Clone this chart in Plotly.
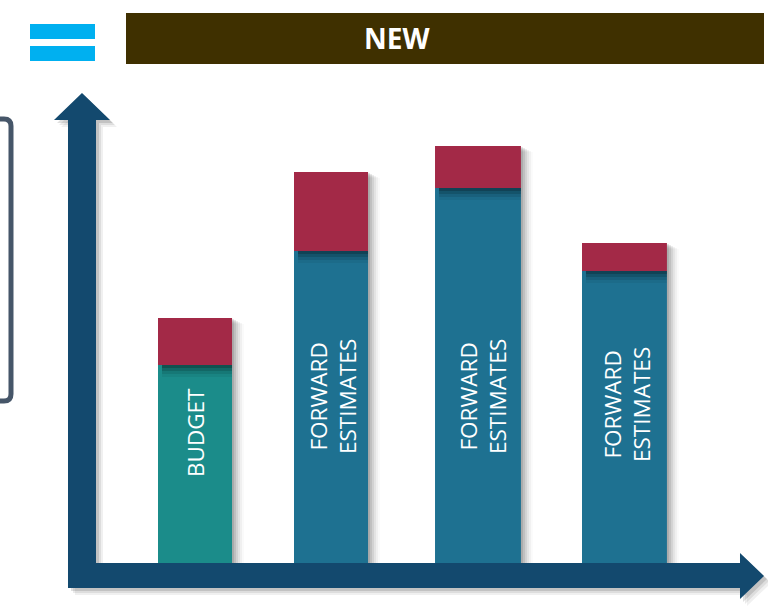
import plotly.graph_objects as go

# ---- data ----
categories = ["Budget", "Forward estimate 1", "Forward estimate 2", "Forward estimate 3"]
base_values = [19.8, 31.2, 37.5, 29.2]   # teal / blue part
new_values = [4.7, 7.9, 4.2, 2.8]        # red "NEW" part
bar_labels = ["BUDGET", "FORWARD<br>ESTIMATES", "FORWARD<br>ESTIMATES", "FORWARD<br>ESTIMATES"]
header_text = "NEW"

# ---- styling / layout helpers ----
W, H = 768, 612
def px(x):
    return x / W
def py(y):
    return 1 - y / H

SLOT = 143.2                      # pixel width of one category slot
bar_widths = [0.517, 0.517, 0.60, 0.593]
bar_offsets = [-0.2395, -0.2898, -0.305, -0.2786]
base_colors = ["#1B8C8A", "#1E7191", "#1E7191", "#1E7191"]
red = "#A32947"
arrow_col = "#13496E"

totals = [b + n for b, n in zip(base_values, new_values)]

fig = go.Figure()

# drop shadows of whole bars (to the right)
for k, a in [(2, 0.10), (4, 0.09), (6, 0.07), (8, 0.05), (10, 0.04), (12, 0.02)]:
    fig.add_trace(go.Bar(
        x=categories, y=[t - 0.05 * k for t in totals], base=[0] * 4,
        width=bar_widths, offset=[o + k / SLOT for o in bar_offsets],
        marker=dict(color=f"rgba(0,0,0,{a})", line=dict(width=0)),
        hoverinfo="skip", showlegend=False))

# base (teal/blue) bars
fig.add_trace(go.Bar(
    x=categories, y=base_values, base=[0] * 4,
    width=bar_widths, offset=bar_offsets,
    marker=dict(color=base_colors, line=dict(width=0)),
    name="Existing", showlegend=False))

# shadow cast by red block onto the bar beneath
for d, a in [(0.3, 0.2), (0.6, 0.14), (0.9, 0.09), (1.2, 0.05)]:
    fig.add_trace(go.Bar(
        x=categories, y=[d] * 4, base=[b - d for b in base_values],
        width=[w - 4 / SLOT for w in bar_widths],
        offset=[o + 4 / SLOT for o in bar_offsets],
        marker=dict(color=f"rgba(0,0,0,{a})", line=dict(width=0)),
        hoverinfo="skip", showlegend=False))

# red "new" blocks
fig.add_trace(go.Bar(
    x=categories, y=new_values, base=base_values,
    width=bar_widths, offset=bar_offsets,
    marker=dict(color=red, line=dict(width=0)),
    name="New", showlegend=False))

# ---- shapes ----
shapes = []

def path_from(points):
    s = "M " + " L ".join(f"{px(x):.5f},{py(y):.5f}" for x, y in points) + " Z"
    return s

arrow_pts = [(68, 588), (68, 120), (54, 120), (82, 93), (110, 120), (96, 120),
             (96, 563), (740, 563), (740, 553), (764, 576), (740, 599), (740, 588)]
for dx, a in [(7, 0.06), (5, 0.08), (3, 0.12)]:
    shapes.append(dict(type="path", xref="paper", yref="paper",
                       path=path_from([(x + dx, y + dx) for x, y in arrow_pts]),
                       fillcolor=f"rgba(0,0,0,{a})", line=dict(width=0), layer="below"))
shapes.append(dict(type="path", xref="paper", yref="paper",
                   path=path_from(arrow_pts), fillcolor=arrow_col,
                   line=dict(width=0), layer="above"))

# header bar
shapes.append(dict(type="rect", xref="paper", yref="paper",
                   x0=px(126), x1=px(764), y0=py(64), y1=py(13),
                   fillcolor="#3F3000", line=dict(width=0), layer="below"))

# equals icon
for y0, y1 in [(24, 39), (46, 61)]:
    shapes.append(dict(type="rect", xref="paper", yref="paper",
                       x0=px(30), x1=px(95), y0=py(y1), y1=py(y0),
                       fillcolor="#00B0F0", line=dict(width=0), layer="below"))

# partial rounded rectangle at left edge
r = 7
rr = (f"M {px(-30):.5f},{py(119):.5f} L {px(11 - r):.5f},{py(119):.5f} "
      f"Q {px(11):.5f},{py(119):.5f} {px(11):.5f},{py(119 + r):.5f} "
      f"L {px(11):.5f},{py(401 - r):.5f} "
      f"Q {px(11):.5f},{py(401):.5f} {px(11 - r):.5f},{py(401):.5f} "
      f"L {px(-30):.5f},{py(401):.5f}")
shapes.append(dict(type="path", xref="paper", yref="paper", path=rr,
                   line=dict(color="#465669", width=5), layer="below"))

# ---- annotations ----
annotations = [dict(x=px(397), y=py(38), xref="paper", yref="paper",
                    xanchor="center", yanchor="middle",
                    text=f"<b>{header_text}</b>", showarrow=False,
                    font=dict(family="Open Sans", size=28, color="white"))]

label_x_px = [195, 332.5, 483, 627]
label_y = [13.0, 16.65, 16.6, 15.8]
cat_center0 = 192.3
for i, (lab, lx, ly) in enumerate(zip(bar_labels, label_x_px, label_y)):
    annotations.append(dict(
        x=categories[i], y=ly, xref="x", yref="y", text=lab, showarrow=False,
        textangle=-90, xshift=lx - (cat_center0 + i * SLOT),
        xanchor="center", yanchor="middle",
        font=dict(family="Open Sans", size=22.5, color="white"),
        align="center"))

fig.update_layout(
    width=W, height=H,
    margin=dict(l=0, r=0, t=0, b=0),
    paper_bgcolor="white", plot_bgcolor="rgba(0,0,0,0)",
    barmode="overlay",
    shapes=shapes, annotations=annotations,
    xaxis=dict(domain=[px(120.7), px(693.5)], type="category",
               showticklabels=False, showgrid=False, zeroline=False,
               showline=False, ticks=""),
    yaxis=dict(domain=[py(563), py(93)], range=[0, 47.0],
               showticklabels=False, showgrid=False, zeroline=False,
               showline=False, ticks=""),
    showlegend=False,
)

fig.write_html("out.html")
